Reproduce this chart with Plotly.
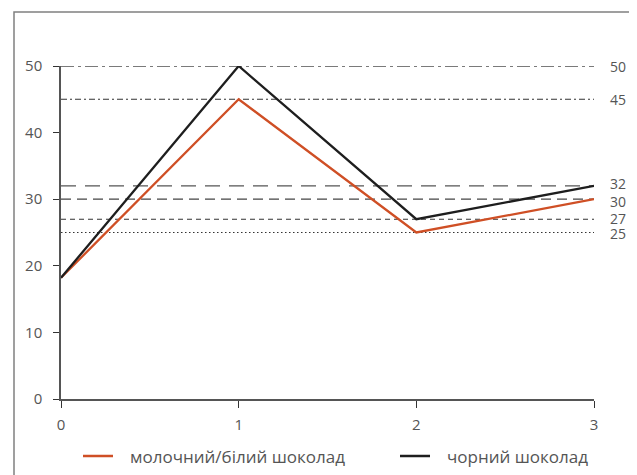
import plotly.graph_objects as go

x_vals = [0, 1, 2, 3]
milk_white = [18.2, 45, 25, 30]
dark = [18.2, 50, 27, 32]
series_names = ["молочний/білий шоколад", "чорний шоколад"]
ref_levels = [50, 45, 32, 30, 27, 25]
ref_labels = ["50", "45", "32", "30", "27", "25"]
ref_dashes = ["13px,4px,3px,4px", "6px,3px,2px,3px", "15px,9px", "10px,6px", "5px,4px", "1.5px,2.5px"]
ref_colors = ["#7a7a7a", "#333333", "#555555", "#444444", "#333333", "#333333"]
ref_widths = [1.8, 1.1, 1.4, 1.2, 1.1, 1.1]
y_ticks = [0, 10, 20, 30, 40, 50]
x_ticks = [0, 1, 2, 3]

OFF = 8  # page body offset
W, H = 637 - OFF, 475 - OFF
L, T = 61 - OFF, 66 - OFF
pw, ph = 533, 333
R, B = W - L - pw, H - T - ph

fig = go.Figure()
fig.add_trace(go.Scatter(x=x_vals, y=milk_white, mode="lines", name=series_names[0],
                         line=dict(color="#cf4f25", width=2.3), showlegend=False))
fig.add_trace(go.Scatter(x=x_vals, y=dark, mode="lines", name=series_names[1],
                         line=dict(color="#1e1e1e", width=2.3), showlegend=False))

shapes = []
for lv, d, c, w in zip(ref_levels, ref_dashes, ref_colors, ref_widths):
    shapes.append(dict(type="line", xref="x", yref="y", x0=0, x1=3, y0=lv, y1=lv,
                       line=dict(color=c, width=w, dash=d), layer="below"))

def px_x(sx):
    return (sx - OFF - L) / pw
def px_y(sy):
    return 1 - (sy - OFF - T) / ph

# outer frame
shapes.append(dict(type="rect", xref="paper", yref="paper", x0=px_x(14), x1=1.3, y0=-0.4, y1=px_y(12),
                   line=dict(color="#808080", width=1.5), fillcolor="rgba(0,0,0,0)"))

annotations = []
label_shift = {32: 2, 30: -2, 27: 1, 25: -1}
for lv, lab in zip(ref_levels, ref_labels):
    annotations.append(dict(x=px_x(609), y=lv, xref="paper", yref="y", text=lab,
                            showarrow=False, xanchor="left", yanchor="middle",
                            yshift=label_shift.get(lv, 0), borderpad=0,
                            font=dict(family="Open Sans", size=14, color="#555555")))

# legend (custom)
leg_y = px_y(456)
legend_items = [(83, 113, 128, "#cf4f25", series_names[0]), (400, 430, 445, "#1e1e1e", series_names[1])]
for xs, xe, xt, col, name in legend_items:
    shapes.append(dict(type="line", xref="paper", yref="paper", x0=px_x(xs), x1=px_x(xe),
                       y0=leg_y, y1=leg_y, line=dict(color=col, width=2.5)))
    annotations.append(dict(x=px_x(xt), y=leg_y, xref="paper", yref="paper", text=name,
                            showarrow=False, xanchor="left", yanchor="middle",
                            font=dict(family="Open Sans", size=17, color="#555555")))

fig.update_layout(
    width=W, height=H,
    margin=dict(l=L, r=R, t=T, b=B),
    paper_bgcolor="white", plot_bgcolor="white",
    shapes=shapes, annotations=annotations,
    showlegend=False,
    xaxis=dict(range=[0, 3], tickvals=x_ticks, ticks="outside", ticklen=7, tickcolor="#333",
               ticklabelstandoff=4,
               showline=True, linecolor="#555", linewidth=1.5, showgrid=False, zeroline=False,
               tickfont=dict(family="Open Sans", size=15, color="#555555")),
    yaxis=dict(range=[0, 50], tickvals=y_ticks, ticks="outside", ticklen=6, tickcolor="#333",
               ticklabelstandoff=8,
               showline=True, linecolor="#555", linewidth=1.5, showgrid=False, zeroline=False,
               tickfont=dict(family="Open Sans", size=15, color="#555555")),
)
fig.write_html("out.html")
